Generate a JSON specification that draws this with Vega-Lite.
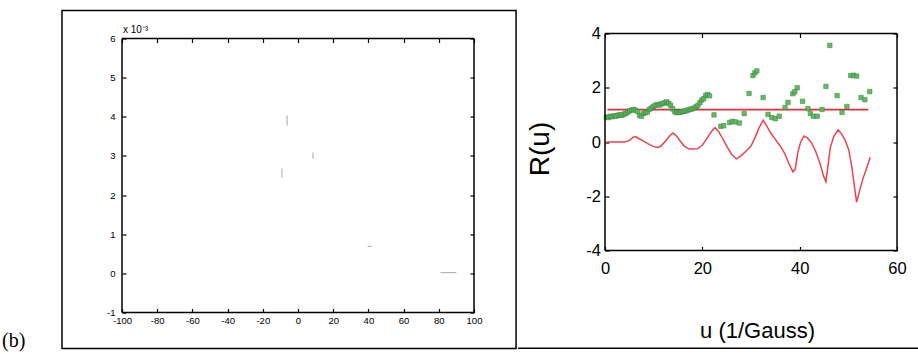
{
  "$schema": "https://vega.github.io/schema/vega-lite/v6.json",
  "background": "white",
  "padding": {"left": 1, "top": 9.5, "right": 0, "bottom": 0},
  "spacing": 0,
  "config": {
    "view": {"stroke": null},
    "axis": {"labelFont": "Liberation Sans", "titleFont": "Liberation Sans", "titleFontWeight": "normal", "labelFlush": false, "labelOverlap": false, "labelExpr": "'' + datum.value"}
  },
  "datasets": {
    "traces": [
      {"x": -6.2, "x2": -6.2, "y": 0.00378, "y2": 0.00403},
      {"x": 8.5, "x2": 8.5, "y": 0.00293, "y2": 0.00309},
      {"x": -9.1, "x2": -9.1, "y": 0.00245, "y2": 0.00268},
      {"x": 39.5, "x2": 42, "y": 0.00069, "y2": 0.00069},
      {"x": 81, "x2": 90, "y": 0.00002, "y2": 0.00002}
    ],
    "curve": [
      {"u": 0.3, "R": 0.0}, {"u": 1, "R": 0.0}, {"u": 2, "R": 0.0}, {"u": 3, "R": 0.0}, {"u": 4, "R": 0.0},
      {"u": 5, "R": 0.05}, {"u": 5.8, "R": 0.18}, {"u": 6.3, "R": 0.2}, {"u": 7, "R": 0.12}, {"u": 8, "R": 0.02},
      {"u": 9, "R": -0.08}, {"u": 10, "R": -0.17}, {"u": 10.8, "R": -0.2}, {"u": 11.5, "R": -0.15}, {"u": 12.5, "R": 0.05},
      {"u": 13.4, "R": 0.25}, {"u": 14, "R": 0.33}, {"u": 14.8, "R": 0.2}, {"u": 15.5, "R": 0.02}, {"u": 16.3, "R": -0.15},
      {"u": 17.2, "R": -0.25}, {"u": 18, "R": -0.26}, {"u": 19, "R": -0.25}, {"u": 20, "R": -0.12}, {"u": 21, "R": 0.15},
      {"u": 22, "R": 0.42}, {"u": 22.6, "R": 0.53}, {"u": 23.3, "R": 0.4}, {"u": 24.2, "R": 0.12}, {"u": 25, "R": -0.15},
      {"u": 26, "R": -0.45}, {"u": 27, "R": -0.62}, {"u": 28, "R": -0.5}, {"u": 29, "R": -0.33}, {"u": 30, "R": -0.15},
      {"u": 30.8, "R": 0.15}, {"u": 31.6, "R": 0.5}, {"u": 32.5, "R": 0.8}, {"u": 33.2, "R": 0.6}, {"u": 34, "R": 0.35},
      {"u": 35.2, "R": 0.05}, {"u": 36.2, "R": -0.2}, {"u": 37, "R": -0.45}, {"u": 37.8, "R": -0.8}, {"u": 38.6, "R": -1.1},
      {"u": 39.1, "R": -1.0}, {"u": 39.6, "R": -0.4}, {"u": 40.2, "R": 0.0}, {"u": 40.9, "R": 0.22}, {"u": 41.6, "R": 0.15},
      {"u": 42.5, "R": -0.05}, {"u": 43.3, "R": -0.35}, {"u": 44.2, "R": -0.8}, {"u": 44.9, "R": -1.25}, {"u": 45.4, "R": -1.47},
      {"u": 45.8, "R": -0.9}, {"u": 46.3, "R": -0.2}, {"u": 47, "R": 0.2}, {"u": 47.9, "R": 0.45}, {"u": 48.6, "R": 0.3},
      {"u": 49.4, "R": 0.05}, {"u": 50.1, "R": -0.3}, {"u": 50.7, "R": -0.9}, {"u": 51.3, "R": -1.7}, {"u": 51.7, "R": -2.22},
      {"u": 52.3, "R": -1.8}, {"u": 53, "R": -1.35}, {"u": 53.7, "R": -1.0}, {"u": 54.5, "R": -0.56}
    ],
    "level": [{"u0": 0.5, "u1": 54.1, "R": 1.19}],
    "points": [
      {"u": 0.3, "R": 0.92}, {"u": 0.7, "R": 0.9}, {"u": 1.1, "R": 0.95}, {"u": 1.5, "R": 0.93}, {"u": 1.9, "R": 0.97},
      {"u": 2.3, "R": 0.95}, {"u": 2.7, "R": 0.99}, {"u": 3.1, "R": 1.0}, {"u": 3.5, "R": 0.98}, {"u": 3.9, "R": 1.03},
      {"u": 4.3, "R": 1.05}, {"u": 4.7, "R": 1.1}, {"u": 5.1, "R": 1.15}, {"u": 5.5, "R": 1.18}, {"u": 5.9, "R": 1.2},
      {"u": 6.3, "R": 1.17}, {"u": 6.7, "R": 1.12}, {"u": 7.1, "R": 0.98}, {"u": 7.5, "R": 0.95}, {"u": 7.9, "R": 1.05},
      {"u": 8.3, "R": 1.08}, {"u": 8.7, "R": 1.1}, {"u": 9.1, "R": 1.2}, {"u": 9.5, "R": 1.25}, {"u": 9.9, "R": 1.3},
      {"u": 10.3, "R": 1.35}, {"u": 10.7, "R": 1.38}, {"u": 11.1, "R": 1.36}, {"u": 11.5, "R": 1.4}, {"u": 11.9, "R": 1.42},
      {"u": 12.3, "R": 1.45}, {"u": 12.7, "R": 1.48}, {"u": 13.1, "R": 1.42}, {"u": 13.5, "R": 1.35}, {"u": 13.9, "R": 1.22},
      {"u": 14.3, "R": 1.12}, {"u": 14.7, "R": 1.08}, {"u": 15.1, "R": 1.1}, {"u": 15.5, "R": 1.1}, {"u": 15.9, "R": 1.12},
      {"u": 16.3, "R": 1.13}, {"u": 16.7, "R": 1.15}, {"u": 17.1, "R": 1.18}, {"u": 17.5, "R": 1.2}, {"u": 17.9, "R": 1.22},
      {"u": 18.3, "R": 1.25}, {"u": 18.7, "R": 1.3}, {"u": 19.1, "R": 1.35}, {"u": 19.5, "R": 1.45}, {"u": 19.9, "R": 1.55},
      {"u": 20.3, "R": 1.6}, {"u": 20.7, "R": 1.72}, {"u": 21.1, "R": 1.75}, {"u": 21.5, "R": 1.7}, {"u": 22.4, "R": 1.0},
      {"u": 23.8, "R": 0.58}, {"u": 24.4, "R": 0.6}, {"u": 25.6, "R": 0.72}, {"u": 26.2, "R": 0.76}, {"u": 26.8, "R": 0.74},
      {"u": 27.6, "R": 0.7}, {"u": 28.6, "R": 1.05}, {"u": 29.6, "R": 1.79}, {"u": 30.4, "R": 2.45}, {"u": 30.8, "R": 2.55},
      {"u": 31.2, "R": 2.62}, {"u": 32.5, "R": 1.64}, {"u": 33.5, "R": 1.02}, {"u": 34.3, "R": 0.9}, {"u": 35.0, "R": 0.86},
      {"u": 35.8, "R": 0.95}, {"u": 37.0, "R": 1.27}, {"u": 37.6, "R": 1.46}, {"u": 38.6, "R": 1.78}, {"u": 39.0, "R": 1.85},
      {"u": 39.5, "R": 2.0}, {"u": 40.6, "R": 1.5}, {"u": 41.7, "R": 1.23}, {"u": 42.2, "R": 1.05}, {"u": 42.8, "R": 0.95},
      {"u": 43.6, "R": 0.95}, {"u": 44.6, "R": 1.2}, {"u": 45.4, "R": 2.05}, {"u": 46.2, "R": 3.56}, {"u": 47.7, "R": 1.71},
      {"u": 48.7, "R": 1.09}, {"u": 49.7, "R": 1.31}, {"u": 50.5, "R": 2.45}, {"u": 51.1, "R": 2.46}, {"u": 51.7, "R": 2.43},
      {"u": 52.6, "R": 1.64}, {"u": 53.4, "R": 1.56}, {"u": 54.4, "R": 1.86}
    ]
  },
  "hconcat": [
    {
      "width": 352,
      "height": 274,
      "layer": [
        {
          "data": {"name": "traces"},
          "mark": {"type": "rule", "color": "#b4b4b4", "strokeWidth": 1.2},
          "encoding": {
            "x": {"field": "x", "type": "quantitative", "scale": {"domain": [-100, 100], "nice": false, "zero": false},
                  "axis": {"orient": "bottom", "values": [-100, -80, -60, -40, -20, 0, 20, 40, 60, 80, 100], "domain": false, "grid": false, "ticks": false, "title": null, "labelColor": "black", "labelFontSize": 9.5, "labelPadding": 3}},
            "x2": {"field": "x2"},
            "y": {"field": "y", "type": "quantitative", "scale": {"domain": [-0.001, 0.006], "nice": false, "zero": false},
                  "axis": {"orient": "left", "values": [-0.001, 0, 0.001, 0.002, 0.003, 0.004, 0.005, 0.006], "labelExpr": "'' + round(datum.value * 1000)", "domain": false, "grid": false, "ticks": false, "title": null, "labelColor": "black", "labelFontSize": 9.5, "labelPadding": 7}},
            "y2": {"field": "y2"}
          }
        },
        {
          "data": {"values": [{}]},
          "mark": {"type": "rect", "filled": false, "stroke": "black", "strokeWidth": 1.5},
          "encoding": {
            "x": {"datum": -134.1, "type": "quantitative", "axis": {"orient": "top", "domain": false, "grid": false, "ticks": true, "tickColor": "black", "tickWidth": 1.2, "tickSize": 4, "labels": false, "title": null, "offset": -4, "values": [-100, -80, -60, -40, -20, 0, 20, 40, 60, 80, 100]}},
            "x2": {"datum": 123.9},
            "y": {"datum": 0.006715, "type": "quantitative", "axis": {"orient": "right", "domain": false, "grid": false, "ticks": true, "tickColor": "black", "tickWidth": 1.2, "tickSize": 4, "labels": false, "title": null, "offset": -4, "values": [-0.001, 0, 0.001, 0.002, 0.003, 0.004, 0.005, 0.006]}},
            "y2": {"datum": -0.00192}
          }
        },
        {
          "data": {"values": [{}]},
          "mark": {"type": "rule", "color": "black", "strokeWidth": 1.5},
          "encoding": {
            "x": {"datum": -100, "type": "quantitative", "axis": {"orient": "bottom", "domain": false, "grid": false, "ticks": true, "tickColor": "black", "tickWidth": 1.2, "tickSize": 4, "labels": false, "title": null, "offset": -4, "values": [-100, -80, -60, -40, -20, 0, 20, 40, 60, 80, 100]}},
            "y": {"datum": 0.006, "type": "quantitative", "axis": {"orient": "left", "domain": false, "grid": false, "ticks": true, "tickColor": "black", "tickWidth": 1.2, "tickSize": 4, "labels": false, "title": null, "offset": -4, "values": [-0.001, 0, 0.001, 0.002, 0.003, 0.004, 0.005, 0.006]}},
            "y2": {"datum": -0.001}
          }
        },
        {
          "data": {"values": [{}]},
          "mark": {"type": "rule", "color": "black", "strokeWidth": 1.5},
          "encoding": {
            "x": {"datum": 100, "type": "quantitative", "axis": null},
            "y": {"datum": 0.006, "type": "quantitative", "axis": null},
            "y2": {"datum": -0.001}
          }
        },
        {
          "data": {"values": [{}]},
          "mark": {"type": "rule", "color": "black", "strokeWidth": 1.5},
          "encoding": {
            "x": {"datum": -100, "type": "quantitative", "axis": null},
            "x2": {"datum": 100},
            "y": {"datum": 0.006, "type": "quantitative", "axis": null}
          }
        },
        {
          "data": {"values": [{}]},
          "mark": {"type": "rule", "color": "black", "strokeWidth": 1.5},
          "encoding": {
            "x": {"datum": -100, "type": "quantitative", "axis": null},
            "x2": {"datum": 100},
            "y": {"datum": -0.001, "type": "quantitative", "axis": null}
          }
        },
        {
          "data": {"values": [{}]},
          "mark": {"type": "text", "text": "(b)", "font": "Liberation Serif", "fontSize": 20, "align": "left", "baseline": "alphabetic", "color": "black"},
          "encoding": {
            "x": {"datum": -168.2, "type": "quantitative", "axis": null},
            "y": {"datum": -0.001894, "type": "quantitative", "axis": null}
          }
        },
        {
          "data": {"values": [{}]},
          "mark": {"type": "text", "text": "x 10⁻³", "font": "Liberation Sans", "fontSize": 10, "align": "left", "baseline": "alphabetic", "color": "black"},
          "encoding": {
            "x": {"datum": -99.5, "type": "quantitative", "axis": null},
            "y": {"datum": 0.00614, "type": "quantitative", "axis": null}
          }
        }
      ],
      "resolve": {"axis": {"x": "independent", "y": "independent"}}
    },
    {
      "width": 292,
      "height": 212,
      "layer": [
        {
          "data": {"name": "curve"},
          "mark": {"type": "line", "color": "#e8454f", "strokeWidth": 1.5},
          "encoding": {
            "x": {"field": "u", "type": "quantitative", "scale": {"domain": [0, 60], "nice": false, "zero": false},
                  "axis": {"orient": "bottom", "values": [0, 20, 40, 60], "domain": false, "grid": false, "ticks": false, "title": "u (1/Gauss)", "titleColor": "black", "labelColor": "black", "labelFontSize": 16.5, "labelPadding": 10, "titleFontSize": 22, "titleX": 152, "titleY": 87, "titleBaseline": "alphabetic", "titleAlign": "center"}},
            "y": {"field": "R", "type": "quantitative", "scale": {"domain": [-4, 4], "nice": false, "zero": false, "range": [212, -5]},
                  "axis": {"orient": "left", "values": [-4, -2, 0, 2, 4], "domain": false, "grid": false, "ticks": false, "title": "R(u)", "titleColor": "black", "labelColor": "black", "labelFontSize": 16.5, "labelPadding": 4.5, "titleFontSize": 28, "titleAngle": -90, "titleX": -57, "titleY": 110, "titleBaseline": "alphabetic", "titleAlign": "center"}}
          }
        },
        {
          "data": {"name": "level"},
          "mark": {"type": "rule", "color": "#e53038", "strokeWidth": 1.8},
          "encoding": {
            "x": {"field": "u0", "type": "quantitative", "axis": {"orient": "bottom", "domain": false, "grid": false, "ticks": true, "tickColor": "black", "tickWidth": 1.2, "tickSize": 4, "labels": false, "title": null, "offset": -4, "values": [0, 20, 40, 60]}},
            "x2": {"field": "u1"},
            "y": {"field": "R", "type": "quantitative", "axis": {"orient": "left", "domain": false, "grid": false, "ticks": true, "tickColor": "black", "tickWidth": 1.2, "tickSize": 4, "labels": false, "title": null, "offset": -4, "values": [-4, -2, 0, 2, 4]}}
          }
        },
        {
          "data": {"name": "points"},
          "mark": {"type": "point", "shape": "square", "filled": true, "size": 20, "fill": "#5cb85c", "stroke": "#2f7a3a", "strokeWidth": 0.5, "opacity": 0.95},
          "encoding": {
            "x": {"field": "u", "type": "quantitative", "axis": null},
            "y": {"field": "R", "type": "quantitative", "axis": null}
          }
        },
        {
          "data": {"values": [{}]},
          "mark": {"type": "rule", "color": "black", "strokeWidth": 1.5},
          "encoding": {
            "x": {"datum": 0, "type": "quantitative", "axis": {"orient": "top", "domain": false, "grid": false, "ticks": true, "tickColor": "black", "tickWidth": 1.2, "tickSize": 4, "labels": false, "title": null, "offset": 1, "values": [0, 20, 40, 60]}},
            "y": {"datum": 4, "type": "quantitative", "axis": {"orient": "right", "domain": false, "grid": false, "ticks": true, "tickColor": "black", "tickWidth": 1.2, "tickSize": 4, "labels": false, "title": null, "offset": -4, "values": [-4, -2, 0, 2, 4]}},
            "y2": {"datum": -4}
          }
        },
        {
          "data": {"values": [{}]},
          "mark": {"type": "rule", "color": "black", "strokeWidth": 1.5},
          "encoding": {
            "x": {"datum": 60, "type": "quantitative", "axis": null},
            "y": {"datum": 4, "type": "quantitative", "axis": null},
            "y2": {"datum": -4}
          }
        },
        {
          "data": {"values": [{}]},
          "mark": {"type": "rule", "color": "black", "strokeWidth": 1.5},
          "encoding": {
            "x": {"datum": 0, "type": "quantitative", "axis": null},
            "x2": {"datum": 60},
            "y": {"datum": 4, "type": "quantitative", "axis": null}
          }
        },
        {
          "data": {"values": [{}]},
          "mark": {"type": "rule", "color": "black", "strokeWidth": 1.5},
          "encoding": {
            "x": {"datum": 0, "type": "quantitative", "axis": null},
            "x2": {"datum": 60},
            "y": {"datum": -4, "type": "quantitative", "axis": null}
          }
        },
        {
          "data": {"values": [{}]},
          "mark": {"type": "rect", "fill": "white", "fillOpacity": 0, "strokeWidth": 0},
          "encoding": {
            "x": {"datum": -17.856, "type": "quantitative", "axis": null},
            "x2": {"datum": 64.32},
            "y": {"datum": 4.848, "type": "quantitative", "axis": null},
            "y2": {"datum": -7.641}
          }
        },
        {
          "data": {"values": [{}]},
          "mark": {"type": "rule", "color": "black", "strokeWidth": 1.5},
          "encoding": {
            "x": {"datum": -17.856, "type": "quantitative", "axis": null},
            "x2": {"datum": 64.32},
            "y": {"datum": -7.604, "type": "quantitative", "axis": null}
          }
        }
      ],
      "resolve": {"axis": {"x": "independent", "y": "independent"}}
    }
  ]
}
